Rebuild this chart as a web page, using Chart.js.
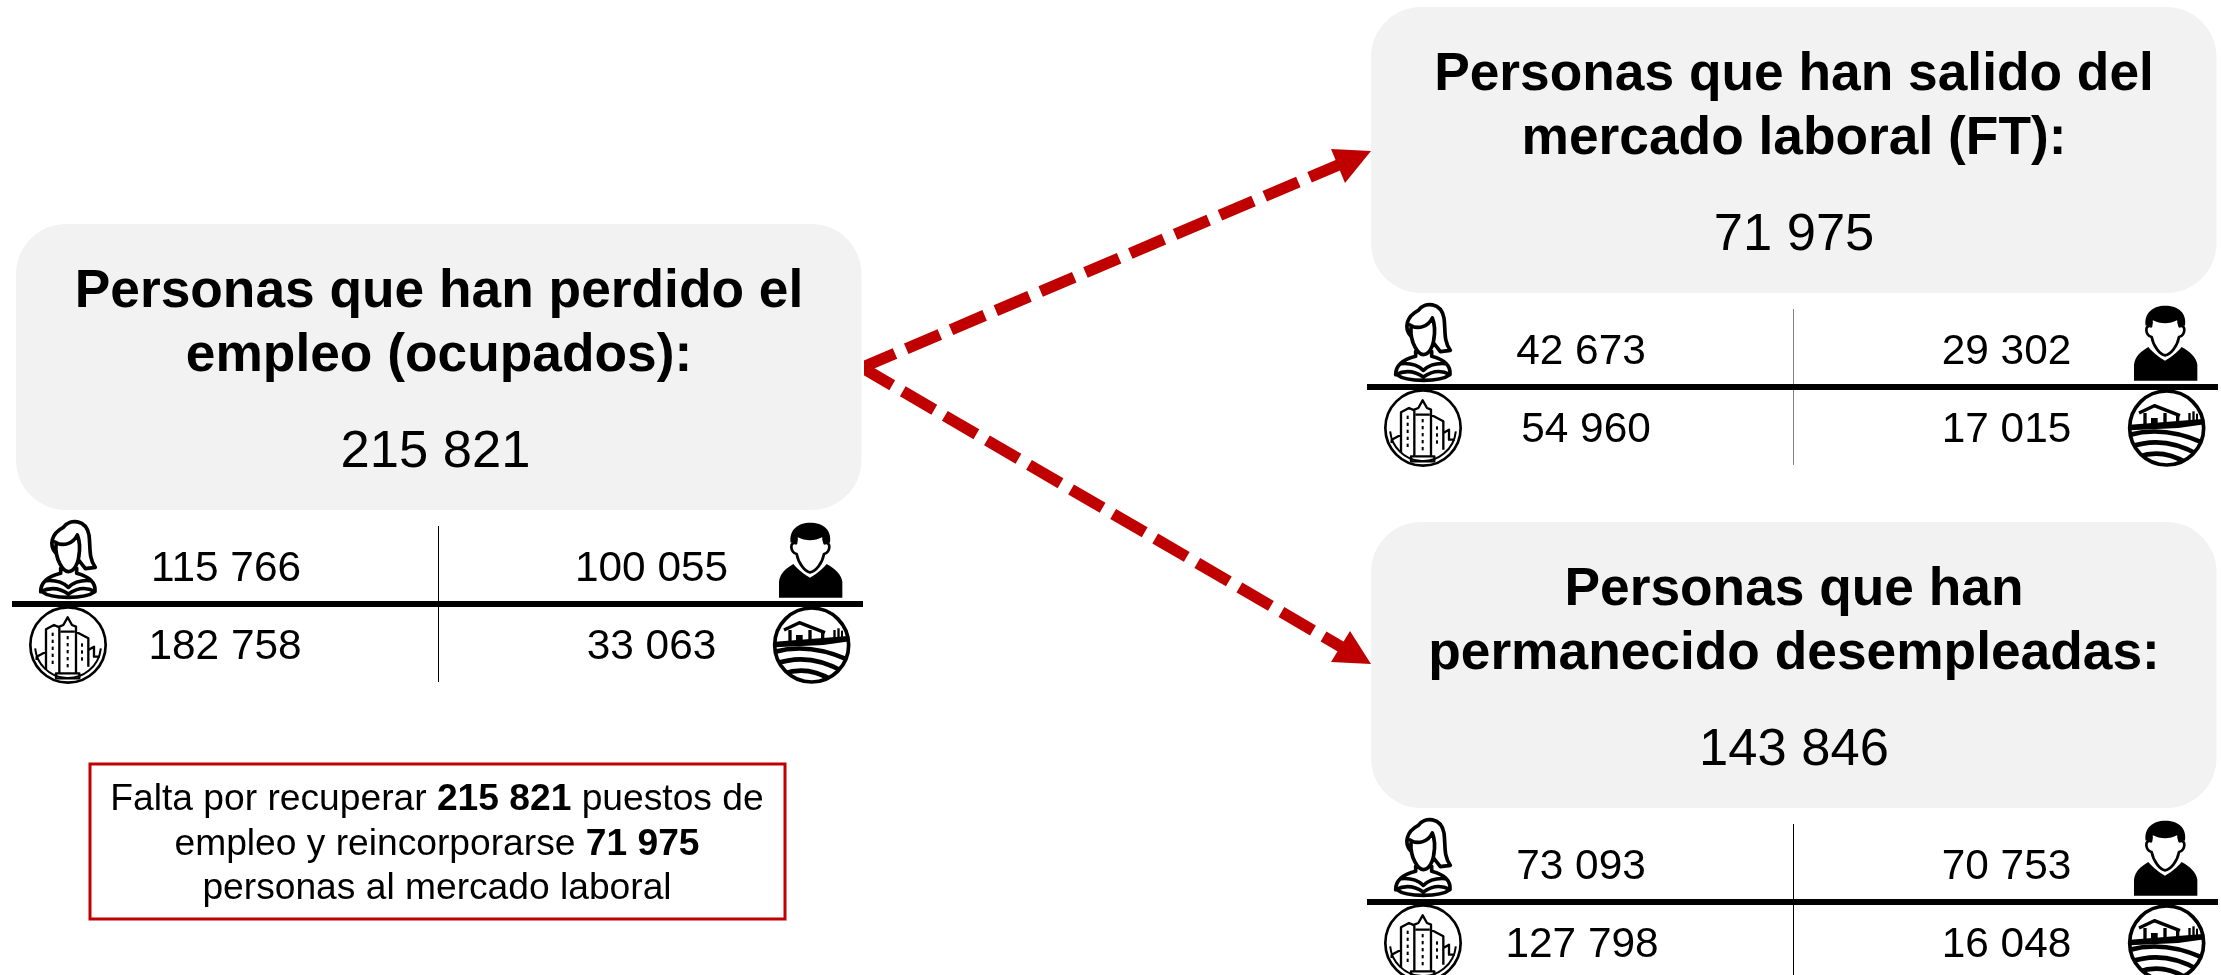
<!DOCTYPE html>
<html lang="es">
<head>
<meta charset="utf-8">
<title>Personas que han perdido el empleo</title>
<script src="https://cdn.jsdelivr.net/npm/chart.js@4"></script>
<style>
html,body{margin:0;padding:0;background:#fff}
canvas{display:block}
</style>
</head>
<body>
<canvas id="c" width="2221" height="975"></canvas>
<script>
/* ---------- data ---------- */
const panelTitles = [
  ["Personas que han perdido el", "empleo (ocupados):"],
  ["Personas que han salido del", "mercado laboral (FT):"],
  ["Personas que han", "permanecido desempleadas:"]
];
const panelTotals = [215821, 71975, 143846];
const womenValues = [115766, 42673, 73093];
const menValues   = [100055, 29302, 70753];
const urbanValues = [182758, 54960, 127798];
const ruralValues = [33063, 17015, 16048];
const noteIntro   = "Falta por recuperar ";
const notePuestos = " puestos de";
const noteEmpleo  = "empleo y reincorporarse ";
const noteClosing = "personas al mercado laboral";

/* ---------- layout (not data) ---------- */
const FONT = '"Liberation Sans", Arial, sans-serif';
const RED = "#c00000";
const panelFrames = [
  {dx: 0,    top: 224, rule: "#000"},
  {dx: 1355, top: 7,   rule: "#808080"},
  {dx: 1355, top: 522, rule: "#000"}
];
const urbanCenters = [225, 231, 227];
const arrows = [
  {from: [861.4, 367.8], to: [1350, 160], tip: [1371, 151], a: [1331, 149], b: [1345, 183]},
  {from: [860.7, 366.8], to: [1350, 652], tip: [1371, 664], a: [1331, 662], b: [1350, 631]}
];

const fmt = n => String(n).replace(/\B(?=(\d{3})+(?!\d))/g, " ");

/* ---------- icons (drawn in local units, 3 units = 1 px) ---------- */
function womanIcon(c) {
  c.lineWidth = 11; c.lineJoin = "round"; c.lineCap = "round"; c.strokeStyle = "#000";
  c.beginPath();
  // hair and ponytail
  c.moveTo(108, 130);
  c.bezierCurveTo(85, 105, 95, 70, 130, 52);
  c.bezierCurveTo(150, 25, 198, 28, 207, 75);
  c.bezierCurveTo(212, 110, 205, 145, 226, 172);
  c.lineTo(196, 176);
  c.lineTo(176, 150);
  // fringe
  c.moveTo(105, 96);
  c.bezierCurveTo(130, 112, 160, 100, 172, 75);
  c.bezierCurveTo(180, 95, 180, 120, 176, 140);
  // face
  c.moveTo(108, 105);
  c.bezierCurveTo(105, 150, 130, 185, 145, 185);
  c.bezierCurveTo(160, 185, 176, 165, 178, 125);
  // shoulders
  c.moveTo(122, 175);
  c.lineTo(122, 190);
  c.bezierCurveTo(90, 198, 62, 215, 62, 245);
  c.bezierCurveTo(95, 228, 125, 238, 145, 252);
  c.bezierCurveTo(165, 238, 195, 228, 225, 245);
  c.bezierCurveTo(228, 215, 200, 198, 170, 190);
  c.lineTo(170, 175);
  // collar
  c.moveTo(80, 212);
  c.bezierCurveTo(105, 210, 130, 218, 145, 232);
  c.bezierCurveTo(160, 218, 185, 210, 210, 212);
  // lower hem
  c.moveTo(65, 245);
  c.bezierCurveTo(95, 268, 195, 268, 225, 245);
  c.stroke();
}

function manIcon(c) {
  c.fillStyle = "#000"; c.strokeStyle = "#000"; c.lineJoin = "round";
  // shirt
  c.beginPath();
  c.moveTo(57, 263);
  c.lineTo(57, 215);
  c.bezierCurveTo(60, 190, 78, 175, 100, 162);
  c.bezierCurveTo(115, 180, 135, 195, 150, 203);
  c.bezierCurveTo(165, 195, 185, 180, 200, 162);
  c.bezierCurveTo(225, 175, 245, 195, 247, 215);
  c.lineTo(247, 263);
  c.closePath();
  c.fill();
  // hair
  c.beginPath();
  c.moveTo(92, 98);
  c.bezierCurveTo(86, 60, 115, 38, 150, 38);
  c.bezierCurveTo(190, 38, 216, 60, 210, 98);
  c.lineTo(192, 95);
  c.lineTo(186, 82);
  c.bezierCurveTo(165, 94, 135, 94, 114, 82);
  c.lineTo(108, 95);
  c.closePath();
  c.fill();
  // face
  c.lineWidth = 8;
  c.beginPath();
  c.moveTo(110, 85);
  c.lineTo(108, 100);
  c.bezierCurveTo(88, 92, 90, 128, 110, 132);
  c.bezierCurveTo(115, 160, 135, 185, 150, 187);
  c.bezierCurveTo(167, 185, 187, 160, 192, 132);
  c.bezierCurveTo(212, 128, 214, 92, 194, 100);
  c.lineTo(190, 85);
  c.stroke();
}

function cityIcon(c) {
  c.strokeStyle = "#000"; c.fillStyle = "#000"; c.lineJoin = "round";
  // outer and inner rings
  c.lineWidth = 8;
  c.beginPath(); c.arc(144, 405, 113, 0, 2 * Math.PI); c.stroke();
  c.lineWidth = 6;
  c.beginPath(); c.arc(144, 405, 99, 0.1, Math.PI - 0.1); c.stroke();
  c.lineWidth = 7;
  c.beginPath();
  // central tower
  c.moveTo(118, 490); c.lineTo(118, 350); c.lineTo(130, 345); c.lineTo(143, 322);
  c.lineTo(156, 345); c.lineTo(168, 350); c.lineTo(168, 490); c.closePath();
  c.moveTo(122, 365); c.lineTo(164, 365);
  c.moveTo(108, 490); c.lineTo(178, 490); c.lineTo(178, 505); c.lineTo(108, 505); c.closePath();
  // left block
  c.moveTo(118, 352); c.lineTo(102, 345); c.lineTo(78, 358); c.lineTo(78, 480);
  // right block
  c.moveTo(168, 365); c.lineTo(205, 385); c.lineTo(205, 470);
  // low side buildings
  c.moveTo(78, 425); c.lineTo(50, 440); c.lineTo(50, 450);
  c.moveTo(205, 420); c.lineTo(222, 410); c.lineTo(222, 440); c.lineTo(240, 440);
  c.stroke();
  // windows
  const win = (x, y0, y1) => { for (let y = y0; y <= y1; y += 21) c.fillRect(x - 3, y, 6, 10); };
  win(98, 368, 460); win(143, 378, 475); win(186, 400, 460);
}

function farmIcon(c) {
  c.strokeStyle = "#000"; c.fillStyle = "#000"; c.lineJoin = "round"; c.lineCap = "butt";
  c.lineWidth = 11;
  c.beginPath(); c.arc(155, 405, 111, 0, 2 * Math.PI); c.stroke();
  c.save();
  c.beginPath(); c.arc(155, 405, 108, 0, 2 * Math.PI); c.clip();
  // house
  c.lineWidth = 10;
  c.beginPath();
  c.moveTo(72, 360); c.lineTo(118, 338); c.lineTo(195, 368);
  c.moveTo(90, 360); c.lineTo(90, 400);
  c.moveTo(150, 360); c.lineTo(150, 400);
  c.moveTo(188, 365); c.lineTo(188, 400);
  c.stroke();
  c.fillRect(108, 375, 20, 28);
  // trees
  c.fillRect(220, 360, 7, 30); c.fillRect(232, 355, 7, 35); c.fillRect(243, 362, 6, 30);
  // horizon band
  c.beginPath();
  c.moveTo(40, 396); c.lineTo(268, 378); c.lineTo(268, 394); c.lineTo(190, 405);
  c.lineTo(40, 412); c.closePath(); c.fill();
  // field furrows
  c.lineWidth = 14;
  c.beginPath();
  c.moveTo(35, 428); c.bezierCurveTo(110, 405, 190, 415, 270, 452);
  c.moveTo(45, 462); c.bezierCurveTo(110, 438, 180, 445, 250, 485);
  c.moveTo(70, 492); c.bezierCurveTo(115, 475, 165, 480, 215, 510);
  c.stroke();
  c.restore();
}

/* ---------- scene plugin: everything is positioned through the chart's scales ---------- */
const scenePlugin = {
  id: "scene",
  afterDatasetsDraw(chart) {
    const c = chart.ctx, sx = chart.scales.x, sy = chart.scales.y;
    const X = v => sx.getPixelForValue(v), Y = v => sy.getPixelForValue(v);

    // arrow heads
    c.save();
    c.fillStyle = RED;
    arrows.forEach(a => {
      c.beginPath();
      c.moveTo(X(a.tip[0]), Y(a.tip[1]));
      c.lineTo(X(a.a[0]), Y(a.a[1]));
      c.lineTo(X(a.b[0]), Y(a.b[1]));
      c.closePath();
      c.fill();
    });
    // vertical cut of the arrow origin
    c.fillStyle = "#fff";
    c.fillRect(X(850), Y(340), X(864) - X(850), Y(400) - Y(340));
    c.restore();

    const text = (s, x, y, font, align) => {
      c.font = font; c.textAlign = align || "center"; c.textBaseline = "alphabetic";
      c.fillStyle = "#000"; c.fillText(s, X(x), Y(y));
    };
    const titleFont = "bold 53.3px " + FONT, totalFont = "52.5px " + FONT, valueFont = "42.4px " + FONT;

    panelFrames.forEach((f, i) => {
      const T = f.top, D = f.dx;
      // rounded panel
      c.fillStyle = "#f2f2f2";
      c.beginPath();
      c.roundRect(X(16 + D), Y(T), 845.5, 286, 50);
      c.fill();
      // titles & total
      text(panelTitles[i][0], 439 + D, T + 83, titleFont);
      text(panelTitles[i][1], 439 + D, T + 147, titleFont);
      text(fmt(panelTotals[i]), 435.5 + (i ? 3.5 : 0) + D, T + 243, totalFont);
      // rows
      text(fmt(womenValues[i]), 226 + D, T + 357, valueFont);
      text(fmt(menValues[i]), 651.5 + D, T + 357, valueFont);
      text(fmt(urbanValues[i]), urbanCenters[i] + D, T + 435, valueFont);
      text(fmt(ruralValues[i]), 651.5 + D, T + 435, valueFont);
      // rules
      c.fillStyle = f.rule;
      c.fillRect(X(438 + D), Y(T + 302), 1, 156);
      c.fillStyle = "#000";
      c.fillRect(X(12 + D), Y(T + 377), 851, 6);
      // icons
      const icon = (fn, ox, oy) => {
        c.save();
        c.translate(X(ox + D), Y(T + oy));
        c.scale(1 / 3, 1 / 3);
        fn(c);
        c.restore();
      };
      icon(womanIcon, 20, 286);
      icon(manIcon, 760, 286);
      icon(cityIcon, 20, 286);
      icon(farmIcon, 760, 286);
    });

    // note box
    c.strokeStyle = RED; c.lineWidth = 3;
    c.strokeRect(X(90), Y(764), 695, 155);
    const noteFont = "37.2px " + FONT, noteBold = "bold 37.2px " + FONT;
    const runs = (parts, y) => {
      let w = 0;
      parts.forEach(p => { c.font = p[1] ? noteBold : noteFont; w += c.measureText(p[0]).width; });
      let x = X(437) - w / 2;
      parts.forEach(p => {
        c.font = p[1] ? noteBold : noteFont; c.textAlign = "left"; c.textBaseline = "alphabetic";
        c.fillStyle = "#000"; c.fillText(p[0], x, Y(y));
        x += c.measureText(p[0]).width;
      });
    };
    runs([[noteIntro, 0], [fmt(panelTotals[0]), 1], [notePuestos, 0]], 810);
    runs([[noteEmpleo, 0], [fmt(panelTotals[1]), 1]], 855);
    runs([[noteClosing, 0]], 899);
  }
};

/* ---------- chart ---------- */
const shaft = a => ({
  data: [{x: a.from[0], y: a.from[1]}, {x: a.to[0], y: a.to[1]}],
  showLine: true, borderColor: RED, borderWidth: 11.5,
  borderDash: [36.5, 12.2], borderCapStyle: "butt",
  pointRadius: 0, tension: 0, clip: false
});

new Chart(document.getElementById("c"), {
  type: "scatter",
  data: {datasets: arrows.map(shaft)},
  plugins: [scenePlugin],
  options: {
    responsive: false, animation: false,
    layout: {padding: 0},
    plugins: {legend: {display: false}, tooltip: {enabled: false}, title: {display: false}},
    scales: {
      x: {type: "linear", min: 0, max: 2221, display: false},
      y: {type: "linear", min: 0, max: 975, reverse: true, display: false}
    }
  }
});
</script>
</body>
</html>
